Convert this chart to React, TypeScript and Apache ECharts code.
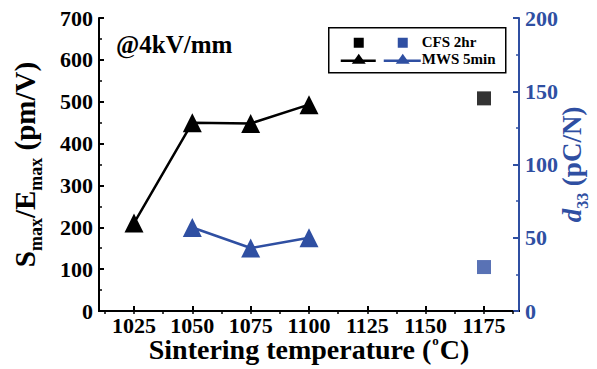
import React, { useEffect, useRef } from "react";
import * as echarts from "echarts";

const xTicks = [1025, 1050, 1075, 1100, 1125, 1150, 1175];
const topTicks = [1012.5, 1025, 1037.5, 1050, 1062.5, 1075, 1087.5, 1100, 1112.5, 1125, 1137.5, 1150, 1162.5, 1175, 1187.5];
const mwsTemps = [1025, 1050, 1075, 1100];
const mwsSE = [210, 450, 448, 493];
const mwsD33Temps = [1050, 1075, 1100];
const mwsD33 = [57, 43, 50];
const cfsTemps = [1175];
const cfsSE = [508];
const cfsD33 = [30];

const BLUE = "#2F4FA2";
const FONT = "Liberation Serif";

export default function App() {
  const ref = useRef<HTMLDivElement>(null);
  useEffect(() => {
    if (!ref.current) return;
    const chart = echarts.init(ref.current, null, { renderer: "svg" });
    const lbl = { fontFamily: FONT, fontWeight: "bold", fontSize: 22, color: "#000" };
    chart.setOption({
      animation: false,
      backgroundColor: "#fff",
      grid: { left: 99, right: 78, top: 18, bottom: 58, outerBoundsMode: "none", containLabel: false },
      xAxis: [
        {
          type: "value",
          position: "bottom",
          min: 1010,
          max: 1190,
          axisLine: { show: true, lineStyle: { color: "#000", width: 2 } },
          axisTick: { show: true, inside: true, length: 5, customValues: xTicks, lineStyle: { color: "#000", width: 2 } },
          axisLabel: { ...lbl, customValues: xTicks, margin: 5, lineHeight: 18, formatter: (v: number) => String(v) },
          splitLine: { show: false },
          name: "{b|Sintering temperature (}{sup|o}{b|C)}",
          nameLocation: "middle",
          nameGap: 23,
          nameMoveOverlap: false,
          nameTextStyle: {
            rich: {
              b: { fontFamily: FONT, fontWeight: "bold", fontSize: 28, color: "#000", lineHeight: 30 },
              sup: { fontFamily: FONT, fontWeight: "bold", fontSize: 13, color: "#000", padding: [0, 1, 17, 1] },
            },
          },
        },
        {
          type: "value",
          position: "top",
          min: 1010,
          max: 1190,
          axisLine: { show: true, lineStyle: { color: "#000", width: 2 } },
          axisTick: { show: true, inside: true, length: 3, customValues: topTicks, lineStyle: { color: "#000", width: 1.5 } },
          axisLabel: { show: false },
          splitLine: { show: false },
        },
      ],
      yAxis: [
        {
          type: "value",
          position: "left",
          min: 0,
          max: 700,
          interval: 100,
          axisLine: { show: true, lineStyle: { color: "#000", width: 2 } },
          axisTick: { show: true, inside: true, length: 5, lineStyle: { color: "#000", width: 2 } },
          minorTick: { show: true, splitNumber: 2, length: 3, lineStyle: { color: "#000", width: 1.5 } },
          axisLabel: { ...lbl, margin: 6 },
          splitLine: { show: false },
          name: "{b|S}{s|max}{b|/E}{s|max}{b| (pm/V)}",
          nameLocation: "middle",
          nameRotate: 90,
          nameGap: 54,
          nameMoveOverlap: false,
          nameTextStyle: {
            rich: {
              b: { fontFamily: FONT, fontWeight: "bold", fontSize: 29, color: "#000", lineHeight: 32 },
              s: { fontFamily: FONT, fontWeight: "bold", fontSize: 18, color: "#000", padding: [22, 0, 0, 0] },
            },
          },
        },
        {
          type: "value",
          position: "right",
          min: 0,
          max: 200,
          interval: 50,
          axisLine: { show: true, lineStyle: { color: BLUE, width: 2 } },
          axisTick: { show: true, inside: true, length: 6, lineStyle: { color: BLUE, width: 2 } },
          minorTick: { show: true, splitNumber: 2, length: 3, lineStyle: { color: BLUE, width: 1.5 } },
          axisLabel: { ...lbl, color: BLUE, margin: 6 },
          splitLine: { show: false },
          name: "{i|d}{s|33}{b| (pC/N)}",
          nameLocation: "middle",
          nameRotate: 90,
          nameGap: 35,
          nameMoveOverlap: false,
          nameTextStyle: {
            rich: {
              i: { fontFamily: FONT, fontWeight: "bold", fontStyle: "italic", fontSize: 27, color: BLUE, lineHeight: 30 },
              b: { fontFamily: FONT, fontWeight: "bold", fontSize: 27, color: BLUE, lineHeight: 30 },
              s: { fontFamily: FONT, fontWeight: "bold", fontSize: 16, color: BLUE, padding: [20, 0, 0, 0] },
            },
          },
        },
      ],
      series: [
        {
          name: "MWS 5min",
          type: "line",
          xAxisIndex: 0,
          yAxisIndex: 0,
          data: mwsTemps.map((t, i) => [t, mwsSE[i]]),
          symbol: "triangle",
          symbolSize: 19,
          itemStyle: { color: "#000" },
          lineStyle: { color: "#000", width: 2.5 },
        },
        {
          name: "MWS 5min d33",
          type: "line",
          xAxisIndex: 0,
          yAxisIndex: 1,
          data: mwsD33Temps.map((t, i) => [t, mwsD33[i]]),
          symbol: "triangle",
          symbolSize: 19,
          itemStyle: { color: BLUE },
          lineStyle: { color: BLUE, width: 2.5 },
        },
        {
          name: "CFS 2hr",
          type: "scatter",
          xAxisIndex: 0,
          yAxisIndex: 0,
          data: cfsTemps.map((t, i) => [t, cfsSE[i]]),
          symbol: "rect",
          symbolSize: 14,
          itemStyle: { color: "#000" },
        },
        {
          name: "CFS 2hr d33",
          type: "scatter",
          xAxisIndex: 0,
          yAxisIndex: 1,
          data: cfsTemps.map((t, i) => [t, cfsD33[i]]),
          symbol: "rect",
          symbolSize: 14,
          itemStyle: { color: BLUE },
        },
      ],
      graphic: [
        {
          type: "text",
          left: 116,
          top: 32,
          style: { text: "@4kV/mm", fontFamily: FONT, fontWeight: "bold", fontSize: 25, fill: "#000" },
        },
        {
          type: "group",
          left: 328,
          top: 27,
          children: [
            { type: "rect", shape: { x: 0, y: 0, width: 177, height: 45 }, style: { fill: "#fff", stroke: "#000", lineWidth: 1.5 } },
            { type: "rect", shape: { x: 25, y: 10, width: 10, height: 10 }, style: { fill: "#000" } },
            { type: "rect", shape: { x: 69, y: 10, width: 10, height: 10 }, style: { fill: BLUE } },
            { type: "line", shape: { x1: 12, y1: 33, x2: 47, y2: 33 }, style: { stroke: "#000", lineWidth: 2.5 } },
            { type: "polygon", shape: { points: [[30, 26], [23, 36], [37, 36]] }, style: { fill: "#000" } },
            { type: "line", shape: { x1: 55, y1: 33, x2: 92, y2: 33 }, style: { stroke: BLUE, lineWidth: 2.5 } },
            { type: "polygon", shape: { points: [[74, 26], [67, 36], [81, 36]] }, style: { fill: BLUE } },
            { type: "text", x: 93, y: 7, style: { text: "CFS 2hr", fontFamily: FONT, fontWeight: "bold", fontSize: 15, fill: "#000" } },
            { type: "text", x: 93, y: 24, style: { text: "MWS 5min", fontFamily: FONT, fontWeight: "bold", fontSize: 15, fill: "#000" } },
          ],
        },
      ],
    });
    return () => chart.dispose();
  }, []);
  return <div ref={ref} style={{ position: "fixed", left: 0, top: 0, width: 597, height: 369 }} />;
}
